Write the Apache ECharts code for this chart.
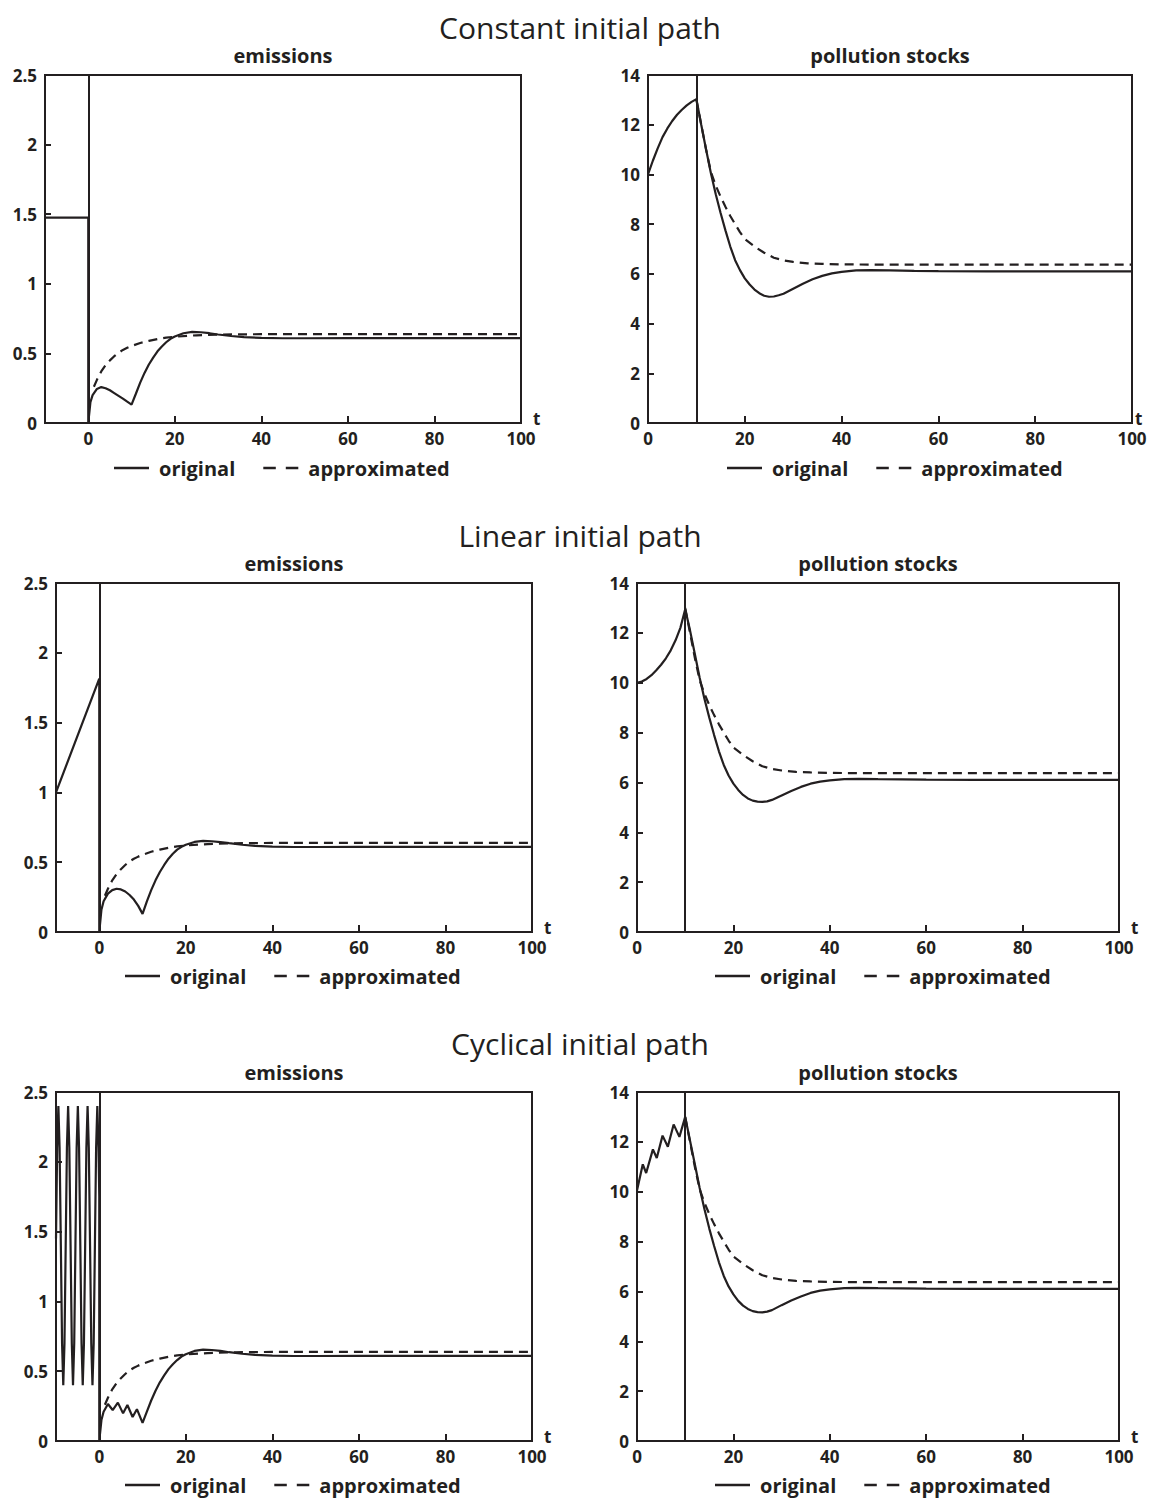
<!DOCTYPE html>
<html>
<head>
<meta charset="utf-8">
<title>Initial paths: emissions and pollution stocks</title>
<script src="https://cdn.jsdelivr.net/npm/echarts@6/dist/echarts.min.js"></script>
<style>
html, body { margin: 0; padding: 0; background: #fff; }
#main { width: 1152px; height: 1499px; }
</style>
</head>
<body>
<div id="main"></div>
<script>
// text
var rowTitles = ['Constant initial path', 'Linear initial path', 'Cyclical initial path'];
var panelTitles = ['emissions', 'pollution stocks'];
var seriesNames = ['original', 'approximated'];

// tick labels
var xLabelValues = [0, 20, 40, 60, 80, 100];
var xTickValues = [20, 40, 60, 80];

// emissions before t = 0
var constEmisPreT = [-10, 0];
var constEmisPreV = [1.475, 1.475];
var linEmisPreT = [-10, 0];
var linEmisPreV = [1.0, 1.815];
var cycEmisPreT = [-10, -9.73, -9.45, -9.17, -8.88, -8.6, -8.32, -8.04, -7.76, -7.48, -7.2, -6.92, -6.63, -6.35, -6.07, -5.79, -5.51, -5.23, -4.95, -4.67, -4.38, -4.1, -3.82, -3.54, -3.26, -2.98, -2.7, -2.42, -2.13, -1.85, -1.57, -1.29, -1.01, -0.73, -0.45, -0.17, 0];
var cycEmisPreV = [1.45, 2.1, 2.4, 2.1, 1.4, 0.7, 0.4, 0.7, 1.4, 2.1, 2.4, 2.1, 1.4, 0.7, 0.4, 0.7, 1.4, 2.1, 2.4, 2.1, 1.4, 0.7, 0.4, 0.7, 1.4, 2.1, 2.4, 2.1, 1.4, 0.7, 0.4, 0.7, 1.4, 2.1, 2.4, 2.1, 1.75];

// emissions from t = 0 on (original)
var emisT = [0, 0.5, 1, 2, 3, 4, 5, 6, 7, 8, 9, 10, 11, 12, 13, 14, 15, 16, 17, 18, 19, 20, 22, 24, 26, 28, 30, 33, 36, 40, 45, 50, 60, 70, 80, 90, 100];
var constEmisV = [0, 0.15, 0.2, 0.245, 0.258, 0.25, 0.235, 0.215, 0.195, 0.175, 0.153, 0.132, 0.21, 0.29, 0.36, 0.42, 0.47, 0.515, 0.55, 0.58, 0.605, 0.622, 0.645, 0.655, 0.652, 0.645, 0.636, 0.625, 0.617, 0.611, 0.609, 0.609, 0.61, 0.61, 0.61, 0.61, 0.61];
var linEmisV = [0, 0.16, 0.22, 0.275, 0.3, 0.31, 0.305, 0.29, 0.265, 0.232, 0.187, 0.13, 0.22, 0.3, 0.37, 0.43, 0.48, 0.525, 0.56, 0.59, 0.61, 0.625, 0.645, 0.653, 0.65, 0.644, 0.636, 0.625, 0.617, 0.611, 0.609, 0.609, 0.61, 0.61, 0.61, 0.61, 0.61];
var cycEmisT = [0, 0.5, 1, 2, 3.1, 4.3, 5.5, 6.5, 7.7, 8.7, 10, 11, 12, 13, 14, 15, 16, 17, 18, 19, 20, 22, 24, 26, 28, 30, 33, 36, 40, 45, 50, 60, 70, 80, 90, 100];
var cycEmisV = [0, 0.15, 0.21, 0.265, 0.222, 0.275, 0.198, 0.258, 0.172, 0.228, 0.13, 0.21, 0.29, 0.36, 0.42, 0.47, 0.515, 0.55, 0.58, 0.605, 0.622, 0.645, 0.655, 0.652, 0.645, 0.636, 0.625, 0.617, 0.611, 0.609, 0.609, 0.61, 0.61, 0.61, 0.61, 0.61];

// emissions (approximated)
var apxEmisT = [1.3, 2, 3, 4, 5, 6, 7, 8, 9, 10, 12, 14, 16, 18, 20, 25, 30, 40, 50, 100];
var apxEmisV = [0.26, 0.31, 0.37, 0.415, 0.45, 0.48, 0.505, 0.525, 0.54, 0.553, 0.575, 0.59, 0.603, 0.613, 0.62, 0.63, 0.635, 0.638, 0.638, 0.638];

// pollution stocks (original)
var polPreT = [0, 1, 2, 3, 4, 5, 6, 7, 8, 9, 10];
var constPolPreV = [10.0, 10.55, 11.05, 11.5, 11.85, 12.15, 12.4, 12.6, 12.78, 12.92, 13.03];
var linPolPreV = [10.0, 10.05, 10.15, 10.3, 10.5, 10.72, 10.98, 11.3, 11.7, 12.2, 12.95];
var cycPolPreT = [0, 1.2, 1.9, 3.3, 4.1, 5.3, 6.4, 7.6, 8.8, 10];
var cycPolPreV = [10.05, 11.1, 10.75, 11.7, 11.35, 12.25, 11.8, 12.7, 12.2, 13.0];
var polPostT = [11, 12, 13, 14, 15, 16, 17, 18, 19, 20, 21, 22, 23, 24, 25, 26, 27, 28, 30, 32, 34, 36, 38, 40, 43, 46, 50, 55, 60, 70, 80, 90, 100];
var constPolPostV = [12.0, 11.0, 10.05, 9.2, 8.45, 7.75, 7.1, 6.55, 6.15, 5.82, 5.57, 5.37, 5.22, 5.12, 5.08, 5.09, 5.14, 5.2, 5.4, 5.6, 5.78, 5.92, 6.02, 6.08, 6.14, 6.15, 6.14, 6.12, 6.11, 6.1, 6.1, 6.1, 6.1];
var linPolPostV = [12.1, 11.15, 10.2, 9.35, 8.6, 7.9, 7.25, 6.7, 6.28, 5.95, 5.7, 5.5, 5.36, 5.27, 5.23, 5.22, 5.24, 5.3, 5.48, 5.66, 5.82, 5.95, 6.03, 6.08, 6.13, 6.14, 6.13, 6.12, 6.11, 6.1, 6.1, 6.1, 6.1];
var cycPolPostV = [12.05, 11.1, 10.15, 9.3, 8.52, 7.82, 7.17, 6.62, 6.2, 5.88, 5.62, 5.43, 5.3, 5.21, 5.17, 5.16, 5.19, 5.25, 5.45, 5.64, 5.8, 5.94, 6.03, 6.08, 6.13, 6.14, 6.13, 6.12, 6.11, 6.1, 6.1, 6.1, 6.1];

// pollution stocks (approximated)
var apxPolT = [10, 11, 12, 13, 14, 15, 16, 17, 18, 19, 20, 22, 24, 26, 28, 30, 33, 36, 40, 50, 60, 80, 100];
var apxPolV = [13.0, 12.0, 11.0, 10.1, 9.55, 9.1, 8.7, 8.33, 8.0, 7.68, 7.4, 7.1, 6.85, 6.65, 6.54, 6.48, 6.42, 6.4, 6.38, 6.37, 6.37, 6.37, 6.37];

var INK = '#231f20';
var FONT = "'Open Sans', 'DejaVu Sans', sans-serif";

function pairs(ts, vs) {
	return ts.map(function (t, i) { return [t, vs[i]]; });
}

// panel boxes, in pixels
var boxes = [
	{ left: 45,  top: 75,   width: 476, height: 348, legendLeft: 114, nameGap: 12 },
	{ left: 648, top: 75,   width: 484, height: 348, legendLeft: 727, nameGap: 3 },
	{ left: 56,  top: 583,  width: 476, height: 349, legendLeft: 125, nameGap: 12 },
	{ left: 637, top: 583,  width: 482, height: 349, legendLeft: 715, nameGap: 12 },
	{ left: 56,  top: 1092, width: 476, height: 349, legendLeft: 125, nameGap: 12 },
	{ left: 637, top: 1092, width: 482, height: 349, legendLeft: 715, nameGap: 12 }
];
var rowTitleY = [27, 535, 1043];
var legendY = [469, 977, 1486];

var originals = [
	pairs(constEmisPreT.concat(emisT), constEmisPreV.concat(constEmisV)),
	pairs(polPreT.concat(polPostT), constPolPreV.concat(constPolPostV)),
	pairs(linEmisPreT.concat(emisT), linEmisPreV.concat(linEmisV)),
	pairs(polPreT.concat(polPostT), linPolPreV.concat(linPolPostV)),
	pairs(cycEmisPreT.concat(cycEmisT), cycEmisPreV.concat(cycEmisV)),
	pairs(cycPolPreT.concat(polPostT), cycPolPreV.concat(cycPolPostV))
];

var labelStyle = { color: INK, fontFamily: FONT, fontWeight: 'bold', fontSize: 17 };

var option = {
	animation: false,
	backgroundColor: '#fff',
	title: [],
	legend: [],
	grid: [],
	xAxis: [],
	yAxis: [],
	series: []
};

rowTitles.forEach(function (text, r) {
	option.title.push({
		text: text, left: 580, top: rowTitleY[r], padding: 0,
		textAlign: 'center', textVerticalAlign: 'middle',
		textStyle: { color: INK, fontFamily: FONT, fontWeight: 'normal', fontSize: 30 }
	});
});

boxes.forEach(function (b, i) {
	var isEmis = i % 2 === 0;
	var row = Math.floor(i / 2);

	option.title.push({
		text: panelTitles[i % 2], left: b.left + b.width / 2, top: b.top - 20, padding: 0,
		textAlign: 'center', textVerticalAlign: 'middle',
		textStyle: { color: INK, fontFamily: FONT, fontWeight: 'bold', fontSize: 20 }
	});

	option.grid.push({
		left: b.left, top: b.top, width: b.width, height: b.height,
		show: true, borderColor: INK, borderWidth: 2,
		containLabel: false, outerBoundsMode: 'none', z: 0
	});

	var xTick = { show: true, inside: true, length: 7, lineStyle: { color: INK, width: 2 } };
	var xLabel = Object.assign({ margin: 7 }, labelStyle);
	if (isEmis) {
		// the axis starts at -10, so place the marks at 0, 20, ... explicitly
		xTick.customValues = xTickValues;
		xLabel.customValues = xLabelValues;
	}

	option.xAxis.push({
		type: 'value', gridIndex: i, z: 5,
		min: isEmis ? -10 : 0, max: 100, interval: isEmis ? undefined : 20,
		axisLine: { show: true, onZero: false, lineStyle: { color: INK, width: 2 } },
		axisTick: xTick,
		axisLabel: xLabel,
		splitLine: { show: false },
		name: 't', nameLocation: 'end', nameGap: b.nameGap,
		nameTextStyle: Object.assign({ verticalAlign: 'bottom', lineHeight: 10 }, labelStyle)
	});

	option.yAxis.push({
		type: 'value', gridIndex: i, z: 5,
		min: 0, max: isEmis ? 2.5 : 14, interval: isEmis ? 0.5 : 2,
		axisLine: { show: true, onZero: false, lineStyle: { color: INK, width: 2 } },
		axisTick: { show: true, inside: true, length: 6, lineStyle: { color: INK, width: 2 } },
		axisLabel: Object.assign({ margin: 8 }, labelStyle),
		splitLine: { show: false }
	});

	option.series.push({
		type: 'line', name: seriesNames[0], xAxisIndex: i, yAxisIndex: i,
		data: originals[i], symbol: 'none', showSymbol: false, smooth: false,
		lineStyle: { color: INK, width: 2.2 }, itemStyle: { color: INK },
		markLine: {
			silent: true, symbol: ['none', 'none'], label: { show: false },
			lineStyle: { color: INK, width: 2, type: 'solid' },
			data: [{ xAxis: isEmis ? 0 : 10 }]
		}
	});

	option.series.push({
		type: 'line', name: seriesNames[1], xAxisIndex: i, yAxisIndex: i,
		data: isEmis ? pairs(apxEmisT, apxEmisV) : pairs(apxPolT, apxPolV),
		symbol: 'none', showSymbol: false, smooth: false,
		lineStyle: { color: INK, width: 2.2, type: [9, 6] }, itemStyle: { color: INK }
	});

	// legend samples: a solid bar and two short dashes
	option.legend.push({
		left: b.legendLeft, top: legendY[row] - 11, padding: 0,
		orient: 'horizontal', selectedMode: false,
		itemWidth: 35, itemHeight: 2.4, itemGap: 28,
		textStyle: { color: INK, fontFamily: FONT, fontWeight: 'bold', fontSize: 20, padding: [0, 0, 0, 5] },
		data: [
			{ name: seriesNames[0], icon: 'rect', itemStyle: { color: INK } },
			{ name: seriesNames[1], icon: 'path://M0 0H12.5V2.4H0ZM22.5 0H35V2.4H22.5Z', itemStyle: { color: INK } }
		]
	});
});

var chart = echarts.init(document.getElementById('main'), null, { renderer: 'svg' });
chart.setOption(option);
</script>
</body>
</html>
